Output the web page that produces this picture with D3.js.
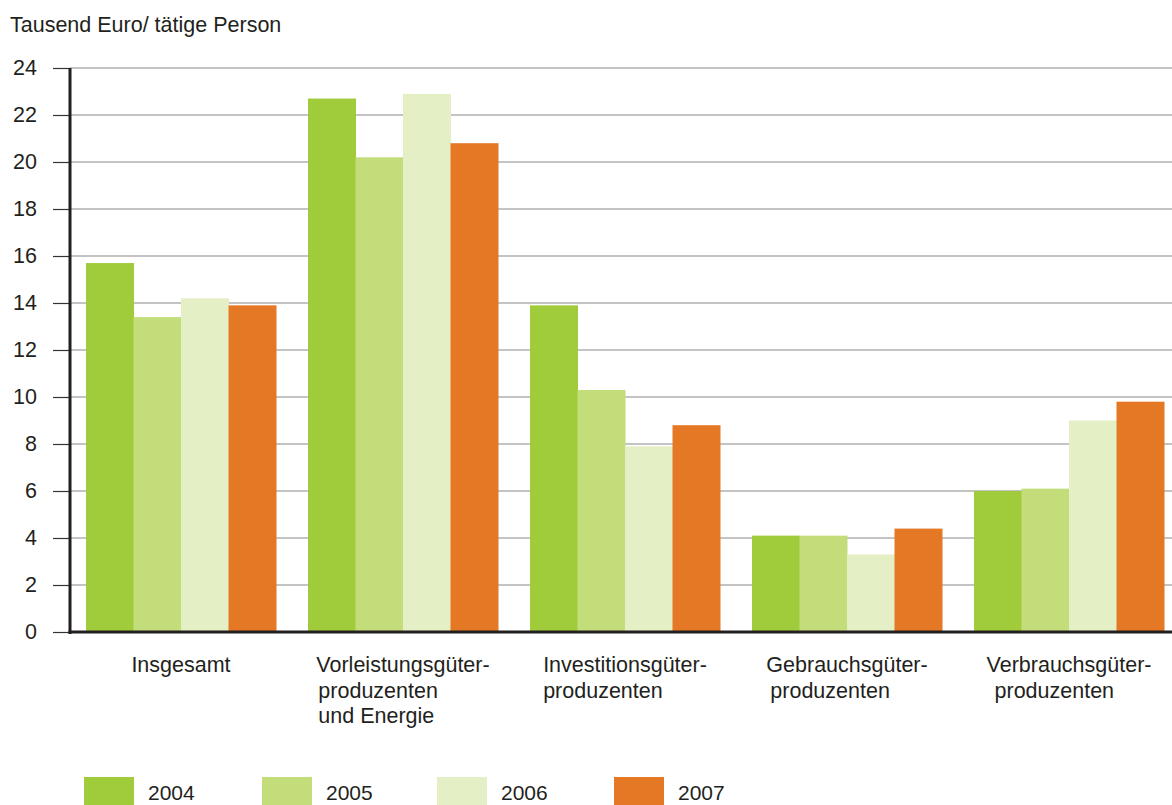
<!DOCTYPE html>
<html>
<head>
<meta charset="utf-8">
<script src="https://cdn.jsdelivr.net/npm/d3@7"></script>
<style>
  html, body { margin: 0; padding: 0; background: #fff; }
  svg { display: block; }
  text { font-family: "Liberation Sans", Arial, sans-serif; fill: #231f20; }
</style>
</head>
<body>
<svg id="chart" width="1172" height="805"></svg>
<script>
const categories = [
  ["Insgesamt"],
  ["Vorleistungsgüter-", "produzenten", "und Energie"],
  ["Investitionsgüter-", "produzenten"],
  ["Gebrauchsgüter-", "produzenten"],
  ["Verbrauchsgüter-", "produzenten"]
];
const years = ["2004", "2005", "2006", "2007"];
const values2004 = [15.7, 22.7, 13.9, 4.1, 6.0];
const values2005 = [13.4, 20.2, 10.3, 4.1, 6.1];
const values2006 = [14.2, 22.9, 7.9, 3.3, 9.0];
const values2007 = [13.9, 20.8, 8.8, 4.4, 9.8];
const yTicks = [0, 2, 4, 6, 8, 10, 12, 14, 16, 18, 20, 22, 24];
const colors = ["#a0cc3c", "#c4dd7b", "#e5efc6", "#e47825"];
const yTitle = "Tausend Euro/ tätige Person";

const series = [values2004, values2005, values2006, values2007];
const svg = d3.select("#chart");
const FS = 21.5;
// small left indents of the continuation lines, as in the original layout
const lineIndent = [[0], [0, 2, 2], [0, 0], [0, 4], [0, 8]];

const x0 = d3.scaleBand()
  .domain(d3.range(categories.length))
  .range([70, 1180])
  .paddingInner(32 / 222)
  .paddingOuter(16 / 222);
const x1 = d3.scaleBand()
  .domain(d3.range(years.length))
  .range([0, x0.bandwidth()]);
const y = d3.scaleLinear().domain([0, 24]).range([632, 68]);

// title
svg.append("text").attr("x", 10).attr("y", 32)
  .attr("font-size", FS).text(yTitle);

// gridlines
svg.append("g").selectAll("line").data(yTicks.filter(d => d > 0)).join("line")
  .attr("x1", 70).attr("x2", 1172)
  .attr("y1", d => y(d)).attr("y2", d => y(d))
  .attr("stroke", "#8a8a8a").attr("stroke-width", 1.2);

// y axis
const yAxis = d3.axisLeft(y).tickValues(yTicks).tickSize(17).tickPadding(16).tickFormat(d3.format("d"));
const ya = svg.append("g").attr("transform", "translate(70,0)").call(yAxis);
ya.select(".domain").remove();
ya.selectAll(".tick line").attr("stroke", "#333").attr("stroke-width", 1.2);
ya.selectAll(".tick text").attr("font-size", FS)
  .attr("font-family", "Liberation Sans, Arial, sans-serif").attr("fill", "#231f20");

// bars
const groups = svg.append("g").selectAll("g").data(categories.map((c, i) => i)).join("g")
  .attr("transform", i => `translate(${x0(i)},0)`);
groups.selectAll("rect").data(i => series.map((s, j) => ({ j, v: s[i] }))).join("rect")
  .attr("x", d => x1(d.j))
  .attr("width", x1.bandwidth() + 0.5)
  .attr("y", d => y(d.v))
  .attr("height", d => y(0) - y(d.v))
  .attr("fill", d => colors[d.j]);

// axis lines
svg.append("line").attr("x1", 70).attr("x2", 70).attr("y1", 68).attr("y2", 634)
  .attr("stroke", "#231f20").attr("stroke-width", 3);
svg.append("line").attr("x1", 68.5).attr("x2", 1172).attr("y1", 632).attr("y2", 632)
  .attr("stroke", "#231f20").attr("stroke-width", 3);

// category labels
categories.forEach((lines, i) => {
  const g = svg.append("g");
  const t = g.append("text").attr("font-size", FS);
  lines.forEach((ln, k) => {
    t.append("tspan").attr("x", lineIndent[i][k]).attr("y", 672 + k * 25.5).text(ln);
  });
  const w = t.node().getBBox().width;
  const cx = x0(i) + x0.bandwidth() / 2;
  g.attr("transform", `translate(${cx - w / 2},0)`);
});

// legend
const legendX = [84, 262, 437, 614];
const lg = svg.append("g").selectAll("g").data(years).join("g")
  .attr("transform", (d, i) => `translate(${legendX[i]},777)`);
lg.append("rect").attr("width", 50).attr("height", 28).attr("fill", (d, i) => colors[i]);
lg.append("text").attr("x", 64).attr("y", 22.5).attr("font-size", 21).text(d => d);
</script>
</body>
</html>
